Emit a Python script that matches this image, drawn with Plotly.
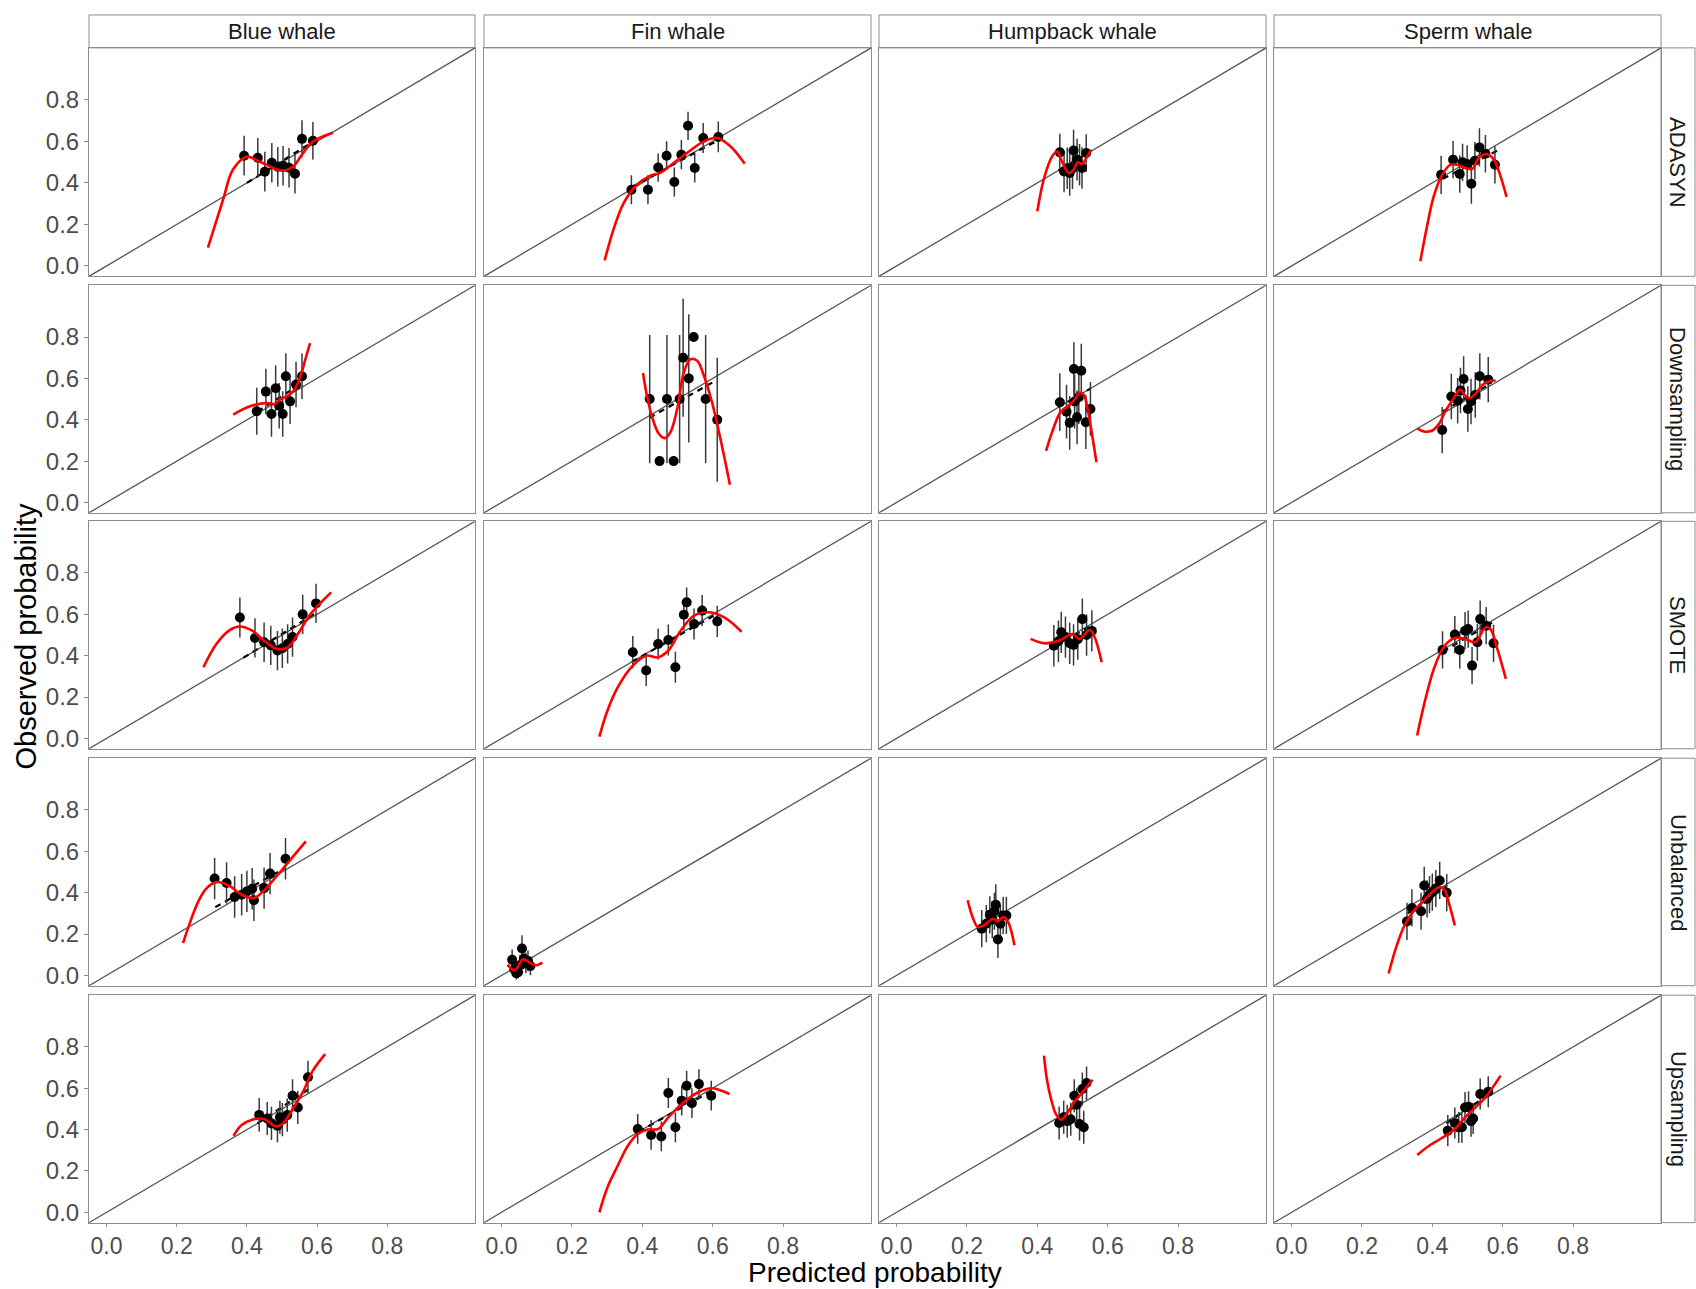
import plotly.graph_objects as go

# ---------------- data ----------------
species = ["Blue whale", "Fin whale", "Humpback whale", "Sperm whale"]
methods = ["ADASYN", "Downsampling", "SMOTE", "Unbalanced", "Upsampling"]
tick_vals = [0.0, 0.2, 0.4, 0.6, 0.8]
tick_text = ["0.0", "0.2", "0.4", "0.6", "0.8"]
axis_limits = [-0.05, 1.05]

# ADASYN
adasyn_blue_pred = [0.392, 0.431, 0.451, 0.471, 0.488, 0.503, 0.520, 0.537, 0.557, 0.588]
adasyn_blue_obs = [0.531, 0.521, 0.454, 0.497, 0.478, 0.483, 0.473, 0.444, 0.612, 0.603]
adasyn_blue_err = [0.096, 0.095, 0.096, 0.095, 0.095, 0.095, 0.095, 0.095, 0.09, 0.09]
adasyn_blue_smooth_x = [0.289, 0.332, 0.36, 0.40, 0.437, 0.50, 0.531, 0.557, 0.588, 0.645]
adasyn_blue_smooth_y = [0.088, 0.319, 0.463, 0.526, 0.502, 0.459, 0.478, 0.536, 0.598, 0.641]
adasyn_blue_linear = [0.40, 0.40, 0.59, 0.60]

adasyn_fin_pred = [0.369, 0.416, 0.445, 0.469, 0.491, 0.511, 0.530, 0.549, 0.573, 0.616]
adasyn_fin_obs = [0.367, 0.367, 0.474, 0.531, 0.404, 0.536, 0.675, 0.472, 0.616, 0.621]
adasyn_fin_err = [0.07, 0.07, 0.068, 0.07, 0.07, 0.07, 0.068, 0.07, 0.072, 0.074]
adasyn_fin_smooth_x = [0.293, 0.318, 0.347, 0.385, 0.423, 0.451, 0.489, 0.527, 0.575, 0.613, 0.651, 0.691]
adasyn_fin_smooth_y = [0.027, 0.175, 0.303, 0.391, 0.435, 0.448, 0.496, 0.544, 0.60, 0.616, 0.575, 0.492]
adasyn_fin_linear = [0.37, 0.38, 0.62, 0.61]

adasyn_hump_pred = [0.464, 0.476, 0.485, 0.492, 0.500, 0.503, 0.513, 0.520, 0.527, 0.539]
adasyn_hump_obs = [0.547, 0.455, 0.470, 0.448, 0.470, 0.556, 0.512, 0.487, 0.472, 0.544]
adasyn_hump_err = [0.09, 0.1, 0.1, 0.11, 0.1, 0.1, 0.1, 0.1, 0.1, 0.09]
adasyn_hump_smooth_x = [0.400, 0.418, 0.442, 0.456, 0.470, 0.489, 0.503, 0.515, 0.527, 0.542, 0.553]
adasyn_hump_smooth_y = [0.263, 0.415, 0.527, 0.551, 0.503, 0.448, 0.463, 0.499, 0.492, 0.527, 0.560]
adasyn_hump_linear = [0.46, 0.46, 0.55, 0.55]

adasyn_sperm_pred = [0.425, 0.459, 0.478, 0.486, 0.499, 0.511, 0.521, 0.534, 0.551, 0.578]
adasyn_sperm_obs = [0.439, 0.512, 0.443, 0.499, 0.491, 0.396, 0.507, 0.571, 0.540, 0.487]
adasyn_sperm_err = [0.092, 0.09, 0.09, 0.09, 0.09, 0.096, 0.09, 0.092, 0.09, 0.09]
adasyn_sperm_smooth_x = [0.366, 0.385, 0.404, 0.428, 0.451, 0.470, 0.494, 0.513, 0.532, 0.554, 0.575, 0.594, 0.611]
adasyn_sperm_smooth_y = [0.023, 0.191, 0.335, 0.439, 0.487, 0.487, 0.472, 0.467, 0.520, 0.539, 0.512, 0.431, 0.332]
adasyn_sperm_linear = [0.43, 0.42, 0.59, 0.56]

# Downsampling
down_blue_pred = [0.428, 0.454, 0.470, 0.482, 0.492, 0.502, 0.511, 0.523, 0.540, 0.557]
down_blue_obs = [0.441, 0.536, 0.428, 0.552, 0.468, 0.428, 0.610, 0.489, 0.570, 0.610]
down_blue_err = [0.114, 0.11, 0.11, 0.11, 0.11, 0.11, 0.112, 0.11, 0.11, 0.11]
down_blue_smooth_x = [0.361, 0.409, 0.456, 0.480, 0.494, 0.518, 0.537, 0.556, 0.568, 0.580]
down_blue_smooth_y = [0.425, 0.465, 0.481, 0.476, 0.497, 0.517, 0.549, 0.629, 0.701, 0.770]
down_blue_linear = [0.43, 0.44, 0.56, 0.58]

down_fin_pred = [0.421, 0.449, 0.470, 0.489, 0.506, 0.516, 0.532, 0.546, 0.580, 0.613]
down_fin_obs = [0.5, 0.2, 0.5, 0.2, 0.5, 0.7, 0.6, 0.8, 0.5, 0.4]
down_fin_err = [0.31, 0.0, 0.31, 0.0, 0.31, 0.285, 0.31, 0.0, 0.31, 0.30]
down_fin_smooth_x = [0.402, 0.413, 0.428, 0.447, 0.464, 0.480, 0.499, 0.518, 0.537, 0.556, 0.575, 0.598, 0.622, 0.649]
down_fin_smooth_y = [0.626, 0.517, 0.412, 0.332, 0.311, 0.340, 0.452, 0.629, 0.693, 0.685, 0.613, 0.485, 0.308, 0.086]
down_fin_linear = [0.42, 0.41, 0.61, 0.59]

down_hump_pred = [0.464, 0.483, 0.492, 0.504, 0.506, 0.513, 0.518, 0.525, 0.538, 0.551]
down_hump_obs = [0.485, 0.439, 0.385, 0.645, 0.488, 0.412, 0.509, 0.637, 0.388, 0.452]
down_hump_err = [0.14, 0.13, 0.13, 0.13, 0.13, 0.13, 0.13, 0.13, 0.13, 0.13]
down_hump_smooth_x = [0.425, 0.442, 0.466, 0.489, 0.508, 0.520, 0.532, 0.543, 0.556, 0.568]
down_hump_smooth_y = [0.249, 0.340, 0.437, 0.468, 0.501, 0.530, 0.520, 0.452, 0.324, 0.195]
down_hump_linear = [0.46, 0.46, 0.55, 0.55]

down_sperm_pred = [0.428, 0.454, 0.472, 0.480, 0.489, 0.501, 0.510, 0.522, 0.535, 0.559]
down_sperm_obs = [0.350, 0.512, 0.492, 0.541, 0.597, 0.452, 0.488, 0.520, 0.610, 0.594]
down_sperm_err = [0.112, 0.11, 0.11, 0.11, 0.11, 0.11, 0.11, 0.11, 0.112, 0.11]
down_sperm_smooth_x = [0.357, 0.376, 0.400, 0.419, 0.438, 0.460, 0.479, 0.492, 0.504, 0.523, 0.542, 0.566, 0.580]
down_sperm_smooth_y = [0.359, 0.343, 0.348, 0.380, 0.444, 0.501, 0.546, 0.520, 0.504, 0.525, 0.568, 0.589, 0.589]
down_sperm_linear = [0.43, 0.44, 0.56, 0.57]

# SMOTE
smote_blue_pred = [0.380, 0.423, 0.449, 0.468, 0.487, 0.501, 0.516, 0.530, 0.559, 0.597]
smote_blue_obs = [0.585, 0.486, 0.465, 0.450, 0.425, 0.436, 0.457, 0.490, 0.600, 0.653]
smote_blue_err = [0.097, 0.095, 0.095, 0.095, 0.095, 0.095, 0.095, 0.095, 0.095, 0.095]
smote_blue_smooth_x = [0.276, 0.313, 0.351, 0.380, 0.415, 0.449, 0.487, 0.516, 0.545, 0.582, 0.640]
smote_blue_smooth_y = [0.344, 0.457, 0.524, 0.541, 0.521, 0.473, 0.432, 0.440, 0.505, 0.602, 0.706]
smote_blue_linear = [0.39, 0.39, 0.60, 0.61]

smote_fin_pred = [0.373, 0.411, 0.445, 0.474, 0.494, 0.518, 0.526, 0.547, 0.570, 0.613]
smote_fin_obs = [0.417, 0.328, 0.457, 0.476, 0.344, 0.598, 0.658, 0.553, 0.618, 0.566]
smote_fin_err = [0.078, 0.075, 0.075, 0.075, 0.075, 0.075, 0.072, 0.075, 0.075, 0.075]
smote_fin_smooth_x = [0.278, 0.301, 0.330, 0.373, 0.411, 0.445, 0.474, 0.509, 0.547, 0.590, 0.633, 0.682]
smote_fin_smooth_y = [0.009, 0.135, 0.247, 0.352, 0.400, 0.392, 0.425, 0.521, 0.594, 0.610, 0.585, 0.516]
smote_fin_linear = [0.37, 0.37, 0.61, 0.60]

smote_hump_pred = [0.447, 0.460, 0.468, 0.480, 0.492, 0.503, 0.515, 0.528, 0.540, 0.555]
smote_hump_obs = [0.448, 0.470, 0.513, 0.490, 0.460, 0.452, 0.480, 0.577, 0.500, 0.520]
smote_hump_err = [0.1, 0.1, 0.1, 0.1, 0.1, 0.1, 0.1, 0.1, 0.1, 0.1]
smote_hump_smooth_x = [0.381, 0.419, 0.462, 0.500, 0.520, 0.549, 0.563, 0.583]
smote_hump_smooth_y = [0.481, 0.460, 0.473, 0.505, 0.481, 0.524, 0.489, 0.368]
smote_hump_linear = [0.45, 0.45, 0.56, 0.55]

smote_sperm_pred = [0.429, 0.464, 0.478, 0.493, 0.502, 0.513, 0.528, 0.536, 0.553, 0.574]
smote_sperm_obs = [0.428, 0.502, 0.428, 0.521, 0.529, 0.352, 0.465, 0.577, 0.545, 0.460]
smote_sperm_err = [0.09, 0.09, 0.09, 0.09, 0.09, 0.09, 0.09, 0.09, 0.09, 0.09]
smote_sperm_smooth_x = [0.357, 0.377, 0.406, 0.435, 0.464, 0.493, 0.522, 0.551, 0.565, 0.585, 0.609]
smote_sperm_smooth_y = [0.014, 0.167, 0.344, 0.448, 0.486, 0.481, 0.465, 0.537, 0.529, 0.432, 0.288]
smote_sperm_linear = [0.43, 0.42, 0.57, 0.56]

# Unbalanced
unbal_blue_pred = [0.308, 0.342, 0.365, 0.385, 0.400, 0.415, 0.420, 0.449, 0.466, 0.510]
unbal_blue_obs = [0.468, 0.447, 0.379, 0.390, 0.406, 0.419, 0.363, 0.422, 0.492, 0.564]
unbal_blue_err = [0.1, 0.1, 0.1, 0.1, 0.1, 0.1, 0.1, 0.1, 0.1, 0.1]
unbal_blue_smooth_x = [0.218, 0.235, 0.261, 0.284, 0.313, 0.351, 0.385, 0.420, 0.449, 0.487, 0.530, 0.568]
unbal_blue_smooth_y = [0.156, 0.242, 0.355, 0.419, 0.451, 0.432, 0.390, 0.374, 0.411, 0.484, 0.572, 0.648]
unbal_blue_linear = [0.31, 0.33, 0.51, 0.52]

unbal_fin_pred = [0.030, 0.036, 0.042, 0.047, 0.053, 0.058, 0.063, 0.069, 0.075, 0.082]
unbal_fin_obs = [0.075, 0.030, 0.010, 0.015, 0.050, 0.130, 0.080, 0.060, 0.070, 0.045]
unbal_fin_err = [0.05, 0.04, 0.03, 0.03, 0.05, 0.064, 0.05, 0.05, 0.05, 0.045]
unbal_fin_smooth_x = [0.017, 0.035, 0.046, 0.061, 0.084, 0.098, 0.116]
unbal_fin_smooth_y = [0.052, 0.024, 0.040, 0.078, 0.057, 0.049, 0.062]
unbal_fin_linear = [0.03, 0.04, 0.08, 0.07]

unbal_hump_pred = [0.242, 0.255, 0.265, 0.272, 0.278, 0.282, 0.288, 0.295, 0.303, 0.312]
unbal_hump_obs = [0.226, 0.250, 0.293, 0.270, 0.310, 0.342, 0.174, 0.250, 0.290, 0.290]
unbal_hump_err = [0.09, 0.09, 0.09, 0.09, 0.09, 0.098, 0.09, 0.09, 0.09, 0.09]
unbal_hump_smooth_x = [0.202, 0.216, 0.231, 0.251, 0.274, 0.288, 0.303, 0.317, 0.335]
unbal_hump_smooth_y = [0.363, 0.282, 0.234, 0.245, 0.274, 0.261, 0.282, 0.258, 0.146]
unbal_hump_linear = [0.24, 0.25, 0.31, 0.29]

unbal_sperm_pred = [0.328, 0.342, 0.368, 0.377, 0.385, 0.392, 0.400, 0.410, 0.421, 0.441]
unbal_sperm_obs = [0.261, 0.326, 0.310, 0.435, 0.370, 0.390, 0.403, 0.420, 0.459, 0.400]
unbal_sperm_err = [0.09, 0.09, 0.09, 0.09, 0.09, 0.09, 0.09, 0.09, 0.09, 0.09]
unbal_sperm_smooth_x = [0.276, 0.296, 0.319, 0.348, 0.377, 0.400, 0.421, 0.435, 0.449, 0.464]
unbal_sperm_smooth_y = [0.009, 0.129, 0.234, 0.314, 0.363, 0.403, 0.427, 0.411, 0.339, 0.242]
unbal_sperm_linear = [0.33, 0.30, 0.44, 0.43]

# Upsampling
up_blue_pred = [0.435, 0.458, 0.470, 0.487, 0.494, 0.501, 0.515, 0.530, 0.545, 0.574]
up_blue_obs = [0.471, 0.454, 0.430, 0.419, 0.460, 0.448, 0.470, 0.564, 0.507, 0.653]
up_blue_err = [0.082, 0.08, 0.08, 0.08, 0.08, 0.08, 0.08, 0.08, 0.08, 0.08]
up_blue_smooth_x = [0.362, 0.385, 0.415, 0.449, 0.481, 0.501, 0.530, 0.559, 0.588, 0.623]
up_blue_smooth_y = [0.370, 0.422, 0.448, 0.451, 0.416, 0.427, 0.499, 0.580, 0.685, 0.765]
up_blue_linear = [0.43, 0.43, 0.58, 0.60]

up_fin_pred = [0.387, 0.425, 0.454, 0.474, 0.494, 0.512, 0.526, 0.541, 0.561, 0.596]
up_fin_obs = [0.403, 0.374, 0.367, 0.577, 0.411, 0.540, 0.612, 0.528, 0.620, 0.564]
up_fin_err = [0.072, 0.072, 0.072, 0.072, 0.072, 0.072, 0.072, 0.072, 0.072, 0.072]
up_fin_smooth_x = [0.278, 0.301, 0.330, 0.359, 0.387, 0.416, 0.445, 0.474, 0.512, 0.555, 0.596, 0.648]
up_fin_smooth_y = [0.0, 0.121, 0.225, 0.322, 0.379, 0.400, 0.403, 0.459, 0.524, 0.577, 0.600, 0.572]
up_fin_linear = [0.39, 0.39, 0.60, 0.59]

up_hump_pred = [0.462, 0.475, 0.485, 0.495, 0.505, 0.512, 0.520, 0.528, 0.532, 0.540]
up_hump_obs = [0.432, 0.460, 0.440, 0.450, 0.564, 0.520, 0.427, 0.596, 0.411, 0.625]
up_hump_err = [0.08, 0.08, 0.08, 0.08, 0.08, 0.08, 0.08, 0.08, 0.08, 0.08]
up_hump_smooth_x = [0.419, 0.427, 0.439, 0.453, 0.468, 0.485, 0.505, 0.528, 0.557]
up_hump_smooth_y = [0.758, 0.645, 0.548, 0.475, 0.448, 0.480, 0.532, 0.580, 0.641]
up_hump_linear = [0.46, 0.46, 0.54, 0.55]

up_sperm_pred = [0.444, 0.464, 0.475, 0.484, 0.493, 0.503, 0.510, 0.516, 0.536, 0.559]
up_sperm_obs = [0.395, 0.432, 0.410, 0.411, 0.507, 0.510, 0.440, 0.454, 0.572, 0.583]
up_sperm_err = [0.075, 0.075, 0.075, 0.075, 0.075, 0.075, 0.075, 0.075, 0.075, 0.075]
up_sperm_smooth_x = [0.357, 0.391, 0.426, 0.464, 0.493, 0.522, 0.551, 0.594]
up_sperm_smooth_y = [0.277, 0.322, 0.358, 0.403, 0.459, 0.507, 0.556, 0.661]
up_sperm_linear = [0.44, 0.43, 0.56, 0.57]

panels = {
    ("ADASYN", "Blue whale"): (adasyn_blue_pred, adasyn_blue_obs, adasyn_blue_err, adasyn_blue_smooth_x, adasyn_blue_smooth_y, adasyn_blue_linear),
    ("ADASYN", "Fin whale"): (adasyn_fin_pred, adasyn_fin_obs, adasyn_fin_err, adasyn_fin_smooth_x, adasyn_fin_smooth_y, adasyn_fin_linear),
    ("ADASYN", "Humpback whale"): (adasyn_hump_pred, adasyn_hump_obs, adasyn_hump_err, adasyn_hump_smooth_x, adasyn_hump_smooth_y, adasyn_hump_linear),
    ("ADASYN", "Sperm whale"): (adasyn_sperm_pred, adasyn_sperm_obs, adasyn_sperm_err, adasyn_sperm_smooth_x, adasyn_sperm_smooth_y, adasyn_sperm_linear),
    ("Downsampling", "Blue whale"): (down_blue_pred, down_blue_obs, down_blue_err, down_blue_smooth_x, down_blue_smooth_y, down_blue_linear),
    ("Downsampling", "Fin whale"): (down_fin_pred, down_fin_obs, down_fin_err, down_fin_smooth_x, down_fin_smooth_y, down_fin_linear),
    ("Downsampling", "Humpback whale"): (down_hump_pred, down_hump_obs, down_hump_err, down_hump_smooth_x, down_hump_smooth_y, down_hump_linear),
    ("Downsampling", "Sperm whale"): (down_sperm_pred, down_sperm_obs, down_sperm_err, down_sperm_smooth_x, down_sperm_smooth_y, down_sperm_linear),
    ("SMOTE", "Blue whale"): (smote_blue_pred, smote_blue_obs, smote_blue_err, smote_blue_smooth_x, smote_blue_smooth_y, smote_blue_linear),
    ("SMOTE", "Fin whale"): (smote_fin_pred, smote_fin_obs, smote_fin_err, smote_fin_smooth_x, smote_fin_smooth_y, smote_fin_linear),
    ("SMOTE", "Humpback whale"): (smote_hump_pred, smote_hump_obs, smote_hump_err, smote_hump_smooth_x, smote_hump_smooth_y, smote_hump_linear),
    ("SMOTE", "Sperm whale"): (smote_sperm_pred, smote_sperm_obs, smote_sperm_err, smote_sperm_smooth_x, smote_sperm_smooth_y, smote_sperm_linear),
    ("Unbalanced", "Blue whale"): (unbal_blue_pred, unbal_blue_obs, unbal_blue_err, unbal_blue_smooth_x, unbal_blue_smooth_y, unbal_blue_linear),
    ("Unbalanced", "Fin whale"): (unbal_fin_pred, unbal_fin_obs, unbal_fin_err, unbal_fin_smooth_x, unbal_fin_smooth_y, unbal_fin_linear),
    ("Unbalanced", "Humpback whale"): (unbal_hump_pred, unbal_hump_obs, unbal_hump_err, unbal_hump_smooth_x, unbal_hump_smooth_y, unbal_hump_linear),
    ("Unbalanced", "Sperm whale"): (unbal_sperm_pred, unbal_sperm_obs, unbal_sperm_err, unbal_sperm_smooth_x, unbal_sperm_smooth_y, unbal_sperm_linear),
    ("Upsampling", "Blue whale"): (up_blue_pred, up_blue_obs, up_blue_err, up_blue_smooth_x, up_blue_smooth_y, up_blue_linear),
    ("Upsampling", "Fin whale"): (up_fin_pred, up_fin_obs, up_fin_err, up_fin_smooth_x, up_fin_smooth_y, up_fin_linear),
    ("Upsampling", "Humpback whale"): (up_hump_pred, up_hump_obs, up_hump_err, up_hump_smooth_x, up_hump_smooth_y, up_hump_linear),
    ("Upsampling", "Sperm whale"): (up_sperm_pred, up_sperm_obs, up_sperm_err, up_sperm_smooth_x, up_sperm_smooth_y, up_sperm_linear),
}

# ---------------- layout ----------------
W, H = 1696, 1289
col_px = [(89, 475), (484, 871), (879, 1266), (1274, 1661)]
row_px = [(48, 277), (286, 514), (522.5, 750.5), (760, 988), (997.5, 1225.5)]
top_strip = (15, 48)
right_strip = (1661, 1695)

FONT = "Arial, Liberation Sans, sans-serif"
BORDER = "#8c8c8c"
TICKFONT = dict(family=FONT, size=23, color="#4d4d4d")

fig = go.Figure()
layout = dict(
    width=W, height=H,
    margin=dict(l=0, r=0, t=0, b=0),
    paper_bgcolor="white", plot_bgcolor="white",
    showlegend=False,
)
shapes = []
annotations = []

idx = 0
for r, method in enumerate(methods):
    for c, sp in enumerate(species):
        idx += 1
        xa = "x" if idx == 1 else f"x{idx}"
        ya = "y" if idx == 1 else f"y{idx}"
        xkey = "xaxis" if idx == 1 else f"xaxis{idx}"
        ykey = "yaxis" if idx == 1 else f"yaxis{idx}"
        x0, x1 = col_px[c]
        y0, y1 = row_px[r]
        layout[xkey] = dict(
            domain=[x0 / W, x1 / W], anchor=ya, range=axis_limits,
            tickvals=tick_vals, ticktext=tick_text,
            showticklabels=(r == len(methods) - 1),
            ticks="outside" if r == len(methods) - 1 else "",
            ticklen=3, tickcolor=BORDER, tickfont=TICKFONT,
            showgrid=False, zeroline=False,
            showline=True, mirror=True, linecolor=BORDER, linewidth=1,
        )
        layout[ykey] = dict(
            domain=[1 - y1 / H, 1 - y0 / H], anchor=xa, range=axis_limits,
            tickvals=tick_vals, ticktext=tick_text,
            showticklabels=(c == 0),
            ticks="outside" if c == 0 else "",
            ticklen=4, tickcolor=BORDER, tickfont=dict(family=FONT, size=24, color="#4d4d4d"),
            showgrid=False, zeroline=False,
            showline=True, mirror=True, linecolor=BORDER, linewidth=1,
        )
        pred, obs, err, sx, sy, lin = panels[(method, sp)]
        # identity line
        fig.add_trace(go.Scatter(x=axis_limits, y=axis_limits, mode="lines",
                                 line=dict(color="#555555", width=1.3),
                                 xaxis=xa, yaxis=ya, hoverinfo="skip"))
        # linear fit (dashed)
        fig.add_trace(go.Scatter(x=[lin[0], lin[2]], y=[lin[1], lin[3]], mode="lines",
                                 line=dict(color="black", width=2.2, dash="6px,5px"),
                                 xaxis=xa, yaxis=ya, hoverinfo="skip"))
        # points with error bars
        fig.add_trace(go.Scatter(x=pred, y=obs, mode="markers",
                                 marker=dict(color="black", size=10),
                                 error_y=dict(type="data", array=err, visible=True,
                                              color="#3a3a3a", thickness=1.5, width=0),
                                 xaxis=xa, yaxis=ya))
        # smooth curve
        fig.add_trace(go.Scatter(x=sx, y=sy, mode="lines",
                                 line=dict(color="#ff0000", width=2.6, shape="spline", smoothing=1.0),
                                 xaxis=xa, yaxis=ya, hoverinfo="skip"))

# top strips
for c, sp in enumerate(species):
    x0, x1 = col_px[c]
    shapes.append(dict(type="rect", xref="paper", yref="paper",
                       x0=x0 / W, x1=x1 / W, y0=1 - top_strip[1] / H, y1=1 - top_strip[0] / H,
                       line=dict(color=BORDER, width=1), fillcolor="white", layer="below"))
    annotations.append(dict(text=sp, xref="paper", yref="paper",
                            x=(x0 + x1) / 2 / W, y=1 - (top_strip[0] + top_strip[1]) / 2 / H,
                            showarrow=False, xanchor="center", yanchor="middle",
                            font=dict(family=FONT, size=22, color="#1a1a1a")))
# right strips
for r, method in enumerate(methods):
    y0, y1 = row_px[r]
    shapes.append(dict(type="rect", xref="paper", yref="paper",
                       x0=right_strip[0] / W, x1=right_strip[1] / W, y0=1 - y1 / H, y1=1 - y0 / H,
                       line=dict(color=BORDER, width=1), fillcolor="white", layer="below"))
    annotations.append(dict(text=method, xref="paper", yref="paper",
                            x=(right_strip[0] + right_strip[1]) / 2 / W, y=1 - (y0 + y1) / 2 / H,
                            showarrow=False, xanchor="center", yanchor="middle", textangle=90,
                            font=dict(family=FONT, size=22, color="#1a1a1a")))

annotations.append(dict(text="Observed probability", xref="paper", yref="paper",
                        x=26 / W, y=1 - 638 / H, showarrow=False, textangle=-90,
                        xanchor="center", yanchor="middle",
                        font=dict(family=FONT, size=29, color="black")))
annotations.append(dict(text="Predicted probability", xref="paper", yref="paper",
                        x=875 / W, y=1 - 1275 / H, showarrow=False,
                        xanchor="center", yanchor="middle",
                        font=dict(family=FONT, size=28, color="black")))

layout["shapes"] = shapes
layout["annotations"] = annotations
fig.update_layout(**layout)
fig.write_html("out.html")
